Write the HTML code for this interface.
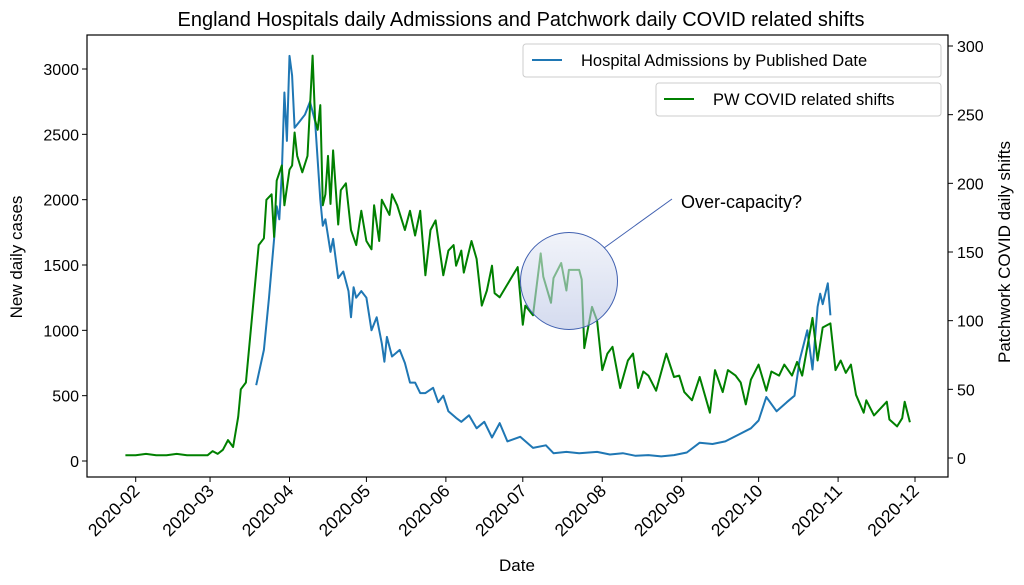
<!DOCTYPE html>
<html><head><meta charset="utf-8"><style>
html,body{margin:0;padding:0;background:#fff;}
svg{display:block;font-family:"Liberation Sans","DejaVu Sans",sans-serif;}
</style></head><body>
<svg id="chart" width="1024" height="585" viewBox="0 0 1024 585" xmlns="http://www.w3.org/2000/svg">
<text x="521" y="26" font-size="20" text-anchor="middle" fill="#000">England Hospitals daily Admissions and Patchwork daily COVID related shifts</text>
<g id="plot"></g>
</svg>
<script>
// day offsets from 2020-02-01
const blueDays = [47,50,52,54,55,56,57,58,59,60,61,62,64,66,68,70,72,73,74,76,77,79,81,83,84,85,86,88,90,92,94,96,97,98,100,103,105,107,109,111,113,116,118,120,122,125,127,130,133,136,139,142,145,150,155,160,163,168,173,180,185,190,195,200,205,210,215,220,225,230,235,240,243,246,250,254,257,259,262,264,266,267,268,270,271];
const blueVals = [580,850,1250,1700,1950,1850,2200,2820,2450,3100,2950,2550,2600,2650,2750,2600,2000,1800,1850,1600,1700,1400,1450,1300,1100,1330,1250,1300,1250,1000,1100,900,760,950,800,850,750,600,600,520,520,560,450,500,380,330,300,350,250,300,180,290,150,185,100,120,60,70,60,70,50,60,40,45,35,45,65,140,130,150,200,250,310,490,380,450,500,770,1000,700,1180,1280,1200,1360,1115];
const greenDays = [-4,0,4,8,12,16,20,24,28,30,32,34,36,38,40,41,43,46,48,50,51,53,54,55,57,58,60,61,62,63,65,67,69,70,71,72,73,74,75,76,77,79,80,82,84,86,88,90,92,93,95,96,99,100,102,105,107,109,111,113,115,117,120,122,124,125,127,128,131,133,135,137,139,140,142,149,151,152,155,158,159,162,163,166,168,169,173,174,175,178,180,182,184,186,189,192,194,196,198,200,203,207,210,212,214,217,220,224,226,229,231,234,236,238,240,243,246,248,251,253,256,258,260,264,266,268,271,273,275,277,279,281,284,285,288,293,294,297,299,300,302];
const greenVals = [2,2,3,2,2,3,2,2,2,5,3,6,13,8,30,50,55,115,155,160,188,192,161,202,213,184,210,213,237,220,208,220,293,246,239,257,184,192,220,185,224,170,195,200,166,155,180,158,152,184,158,188,177,192,184,166,180,162,180,133,166,173,133,151,155,140,151,135,158,145,111,122,140,120,117,139,97,111,104,149,132,113,131,142,122,137,137,130,80,110,100,64,76,81,51,71,76,51,63,60,49,76,59,60,48,42,59,33,64,48,64,60,55,39,57,68,49,63,60,68,60,70,60,102,71,95,98,64,71,62,68,46,33,42,31,41,28,23,29,41,26];
const leftTicks = [0,500,1000,1500,2000,2500,3000];
const rightTicks = [0,50,100,150,200,250,300];
const monthLabels = ["2020-02","2020-03","2020-04","2020-05","2020-06","2020-07","2020-08","2020-09","2020-10","2020-11","2020-12"];
const monthDays = [0,29,60,90,121,151,182,213,243,274,304];

const NS="http://www.w3.org/2000/svg";
const L=87,R=948,T=35,B=477;
const xs=d=>135.7+d*(915-135.7)/304;
const yl=v=>461-v*(461-69)/3000;
const yr=v=>458-v*(458-46)/300;
const g=document.getElementById('plot');
function mk(tag,attrs,parent){const e=document.createElementNS(NS,tag);for(const k in attrs)e.setAttribute(k,attrs[k]);(parent||g).appendChild(e);return e;}

let p1=blueDays.map((d,i)=>(i?'L':'M')+xs(d).toFixed(1)+','+yl(blueVals[i]).toFixed(1)).join('');
const bl=mk('path',{d:p1,fill:'none',stroke:'#1f77b4','stroke-width':2,'stroke-linejoin':'round'});


let p2=greenDays.map((d,i)=>(i?'L':'M')+xs(d).toFixed(1)+','+yr(greenVals[i]).toFixed(1)).join('');
const gl=mk('path',{d:p2,fill:'none',stroke:'#008000','stroke-width':2,'stroke-linejoin':'round'});



const fr=mk('rect',{x:L,y:T,width:R-L,height:B-T,fill:'none',stroke:'#000','stroke-width':1.2});



leftTicks.forEach(v=>{
  const y=yl(v);
  mk('line',{x1:L-5,x2:L,y1:y,y2:y,stroke:'#000'});
  const t=mk('text',{x:L-8,y:y+6,'font-size':16,'text-anchor':'end'});
  
  
  t.textContent=v;
});
rightTicks.forEach(v=>{
  const y=yr(v);
  mk('line',{x1:R,x2:R+5,y1:y,y2:y,stroke:'#000'});
  const t=mk('text',{x:R+9,y:y+6,'font-size':16,'text-anchor':'start'});
  
  
  t.textContent=v;
});
monthDays.forEach((d,i)=>{
  const x=xs(d);
  mk('line',{x1:x,x2:x,y1:B,y2:B+5,stroke:'#000'});
  const t=mk('text',{x:x+5,y:B+15,'font-size':17.5,'text-anchor':'end',transform:'rotate(-45 '+(x+5)+' '+(B+15)+')'});
  
  
  t.textContent=monthLabels[i];
});
</script>
<svg style="position:absolute;left:0;top:0" width="1024" height="585" xmlns="http://www.w3.org/2000/svg" font-family="Liberation Sans, DejaVu Sans, sans-serif">
<defs><linearGradient id="cg" x1="0" y1="0" x2="0" y2="1"><stop offset="0" stop-color="#e8ecf6" stop-opacity="0.6"/><stop offset="1" stop-color="#b8c3e4" stop-opacity="0.6"/></linearGradient></defs>
<text x="517" y="571" font-size="17" text-anchor="middle">Date</text>
<text transform="rotate(-90 22 257)" x="22" y="257" font-size="17" text-anchor="middle">New daily cases</text>
<text transform="rotate(-90 1010 252)" x="1010" y="252" font-size="17" text-anchor="middle">Patchwork COVID daily shifts</text>
<g>
<rect x="523" y="44" width="418" height="33" rx="3" fill="#fff" fill-opacity="0.9" stroke="#ccc"/>
<line x1="532" y1="60" x2="562" y2="60" stroke="#1f77b4" stroke-width="2"/>
<text x="581" y="66" font-size="16.5">Hospital Admissions by Published Date</text>
</g>
<g>
<rect x="656" y="83" width="285" height="33" rx="3" fill="#fff" fill-opacity="0.9" stroke="#ccc"/>
<line x1="664" y1="99" x2="694" y2="99" stroke="#008000" stroke-width="2"/>
<text x="713" y="105" font-size="16.5">PW COVID related shifts</text>
</g>
<circle cx="569" cy="281" r="48.5" fill="url(#cg)" stroke="#4060b0" stroke-width="1"/>
<line x1="604" y1="248" x2="672" y2="199" stroke="#4060b0" stroke-width="1"/>
<text x="681" y="208" font-size="18">Over-capacity?</text>
</svg>
</body></html>
